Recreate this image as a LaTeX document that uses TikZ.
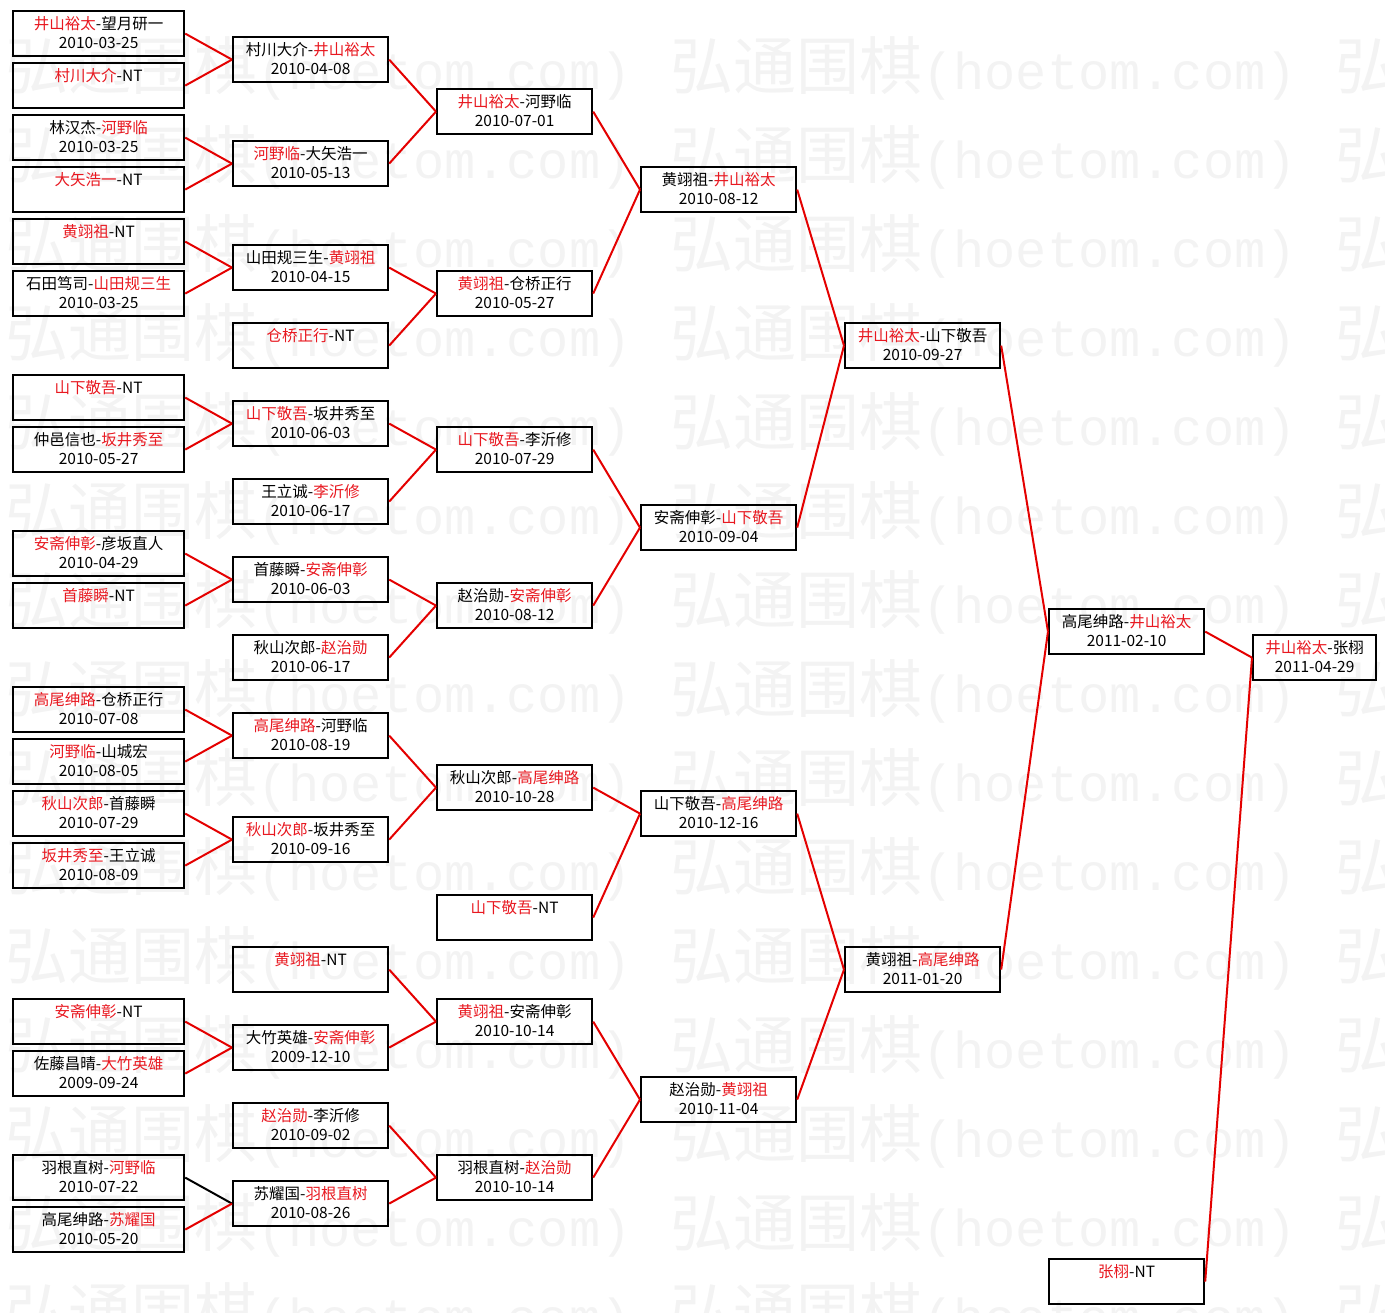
\documentclass[tikz,border=0pt]{standalone}
\usepackage{fontspec}
\newfontfamily\cjk{Noto Sans CJK SC}
\newfontfamily\wmmono{Liberation Mono}

\definecolor{winred}{RGB}{232,24,32}
\definecolor{linkred}{RGB}{228,0,0}
\definecolor{wmgray}{RGB}{243,243,243}
\newcommand{\wn}[1]{\textcolor{winred}{#1}}

\begin{document}
\begin{tikzpicture}[
    x=1pt, y=-1pt,
    every node/.style={font=\cjk\fontsize{15.5}{19}\selectfont},
    game/.style={draw, line width=2.2pt, anchor=north west, inner sep=0pt, align=center,
        minimum width=155pt, minimum height=45pt,
        execute at begin node={\rule{0pt}{14pt}},
        execute at end node={\rule[-2.2pt]{0pt}{2.2pt}}},
    first/.style={game, minimum width=171pt},
    final/.style={game, minimum width=123pt},
    link/.style={draw=linkred, line width=2pt},
    wmtext/.style={text=wmgray, anchor=west, inner sep=0pt, font=\cjk\fontsize{63}{63}\selectfont}
]
\useasboundingbox (0,0) rectangle (1385,1313);
% watermark
\foreach \rr in {0,...,14}
  \foreach \cc in {-1,0,1,2}
    \node[wmtext] (wm\rr\cc) at ({5+665*\cc},{68+89*\rr}) {弘通围棋{\wmmono\fontsize{52}{52}\selectfont(hoetom.com)}};

% round 1
\node[first] (a0) at (12,10) {\wn{井山裕太}-望月研一\\2010-03-25};
\node[first] (a1) at (12,62) {\wn{村川大介}-NT\\};
\node[first] (a2) at (12,114) {林汉杰-\wn{河野临}\\2010-03-25};
\node[first] (a3) at (12,166) {\wn{大矢浩一}-NT\\};
\node[first] (a4) at (12,218) {\wn{黄翊祖}-NT\\};
\node[first] (a5) at (12,270) {石田笃司-\wn{山田规三生}\\2010-03-25};
\node[first] (a7) at (12,374) {\wn{山下敬吾}-NT\\};
\node[first] (a8) at (12,426) {仲邑信也-\wn{坂井秀至}\\2010-05-27};
\node[first] (a10) at (12,530) {\wn{安斋伸彰}-彦坂直人\\2010-04-29};
\node[first] (a11) at (12,582) {\wn{首藤瞬}-NT\\};
\node[first] (a13) at (12,686) {\wn{高尾绅路}-仓桥正行\\2010-07-08};
\node[first] (a14) at (12,738) {\wn{河野临}-山城宏\\2010-08-05};
\node[first] (a15) at (12,790) {\wn{秋山次郎}-首藤瞬\\2010-07-29};
\node[first] (a16) at (12,842) {\wn{坂井秀至}-王立诚\\2010-08-09};
\node[first] (a19) at (12,998) {\wn{安斋伸彰}-NT\\};
\node[first] (a20) at (12,1050) {佐藤昌晴-\wn{大竹英雄}\\2009-09-24};
\node[first] (a22) at (12,1154) {羽根直树-\wn{河野临}\\2010-07-22};
\node[first] (a23) at (12,1206) {高尾绅路-\wn{苏耀国}\\2010-05-20};

% round 2
\node[game] (b0) at (232,36) {村川大介-\wn{井山裕太}\\2010-04-08};
\node[game] (b1) at (232,140) {\wn{河野临}-大矢浩一\\2010-05-13};
\node[game] (b2) at (232,244) {山田规三生-\wn{黄翊祖}\\2010-04-15};
\node[game] (b3) at (232,322) {\wn{仓桥正行}-NT\\};
\node[game] (b4) at (232,400) {\wn{山下敬吾}-坂井秀至\\2010-06-03};
\node[game] (b5) at (232,478) {王立诚-\wn{李沂修}\\2010-06-17};
\node[game] (b6) at (232,556) {首藤瞬-\wn{安斋伸彰}\\2010-06-03};
\node[game] (b7) at (232,634) {秋山次郎-\wn{赵治勋}\\2010-06-17};
\node[game] (b8) at (232,712) {\wn{高尾绅路}-河野临\\2010-08-19};
\node[game] (b9) at (232,816) {\wn{秋山次郎}-坂井秀至\\2010-09-16};
\node[game] (b10) at (232,946) {\wn{黄翊祖}-NT\\};
\node[game] (b11) at (232,1024) {大竹英雄-\wn{安斋伸彰}\\2009-12-10};
\node[game] (b12) at (232,1102) {\wn{赵治勋}-李沂修\\2010-09-02};
\node[game] (b13) at (232,1180) {苏耀国-\wn{羽根直树}\\2010-08-26};

% round 3
\node[game] (c0) at (436,88) {\wn{井山裕太}-河野临\\2010-07-01};
\node[game] (c1) at (436,270) {\wn{黄翊祖}-仓桥正行\\2010-05-27};
\node[game] (c2) at (436,426) {\wn{山下敬吾}-李沂修\\2010-07-29};
\node[game] (c3) at (436,582) {赵治勋-\wn{安斋伸彰}\\2010-08-12};
\node[game] (c4) at (436,764) {秋山次郎-\wn{高尾绅路}\\2010-10-28};
\node[game] (c5) at (436,894) {\wn{山下敬吾}-NT\\};
\node[game] (c6) at (436,998) {\wn{黄翊祖}-安斋伸彰\\2010-10-14};
\node[game] (c7) at (436,1154) {羽根直树-\wn{赵治勋}\\2010-10-14};

% round 4
\node[game] (d0) at (640,166) {黄翊祖-\wn{井山裕太}\\2010-08-12};
\node[game] (d1) at (640,504) {安斋伸彰-\wn{山下敬吾}\\2010-09-04};
\node[game] (d2) at (640,790) {山下敬吾-\wn{高尾绅路}\\2010-12-16};
\node[game] (d3) at (640,1076) {赵治勋-\wn{黄翊祖}\\2010-11-04};

% round 5
\node[game] (e0) at (844,322) {\wn{井山裕太}-山下敬吾\\2010-09-27};
\node[game] (e1) at (844,946) {黄翊祖-\wn{高尾绅路}\\2011-01-20};

% round 6
\node[game] (f0) at (1048,608) {高尾绅路-\wn{井山裕太}\\2011-02-10};
\node[game] (f1) at (1048,1258) {\wn{张栩}-NT\\};

% final
\node[final] (g0) at (1252,634) {\wn{井山裕太}-张栩\\2011-04-29};

\draw[link] (a0.east) -- (b0.west);
\draw[link] (a1.east) -- (b0.west);
\draw[link] (a2.east) -- (b1.west);
\draw[link] (a3.east) -- (b1.west);
\draw[link] (a4.east) -- (b2.west);
\draw[link] (a5.east) -- (b2.west);
\draw[link] (a7.east) -- (b4.west);
\draw[link] (a8.east) -- (b4.west);
\draw[link] (a10.east) -- (b6.west);
\draw[link] (a11.east) -- (b6.west);
\draw[link] (a13.east) -- (b8.west);
\draw[link] (a14.east) -- (b8.west);
\draw[link] (a15.east) -- (b9.west);
\draw[link] (a16.east) -- (b9.west);
\draw[link] (a19.east) -- (b11.west);
\draw[link] (a20.east) -- (b11.west);
\draw[link, draw=black] (a22.east) -- (b13.west);
\draw[link] (a23.east) -- (b13.west);

\draw[link] (b0.east) -- (c0.west);
\draw[link] (b1.east) -- (c0.west);
\draw[link] (b2.east) -- (c1.west);
\draw[link] (b3.east) -- (c1.west);
\draw[link] (b4.east) -- (c2.west);
\draw[link] (b5.east) -- (c2.west);
\draw[link] (b6.east) -- (c3.west);
\draw[link] (b7.east) -- (c3.west);
\draw[link] (b8.east) -- (c4.west);
\draw[link] (b9.east) -- (c4.west);
\draw[link] (b10.east) -- (c6.west);
\draw[link] (b11.east) -- (c6.west);
\draw[link] (b12.east) -- (c7.west);
\draw[link] (b13.east) -- (c7.west);

\draw[link] (c0.east) -- (d0.west);
\draw[link] (c1.east) -- (d0.west);
\draw[link] (c2.east) -- (d1.west);
\draw[link] (c3.east) -- (d1.west);
\draw[link] (c4.east) -- (d2.west);
\draw[link] (c5.east) -- (d2.west);
\draw[link] (c6.east) -- (d3.west);
\draw[link] (c7.east) -- (d3.west);

\draw[link] (d0.east) -- (e0.west);
\draw[link] (d1.east) -- (e0.west);
\draw[link] (d2.east) -- (e1.west);
\draw[link] (d3.east) -- (e1.west);

\draw[link] (e0.east) -- (f0.west);
\draw[link] (e1.east) -- (f0.west);

\draw[link] (f0.east) -- (g0.west);
\draw[link] (f1.east) -- (g0.west);
\end{tikzpicture}
\end{document}
